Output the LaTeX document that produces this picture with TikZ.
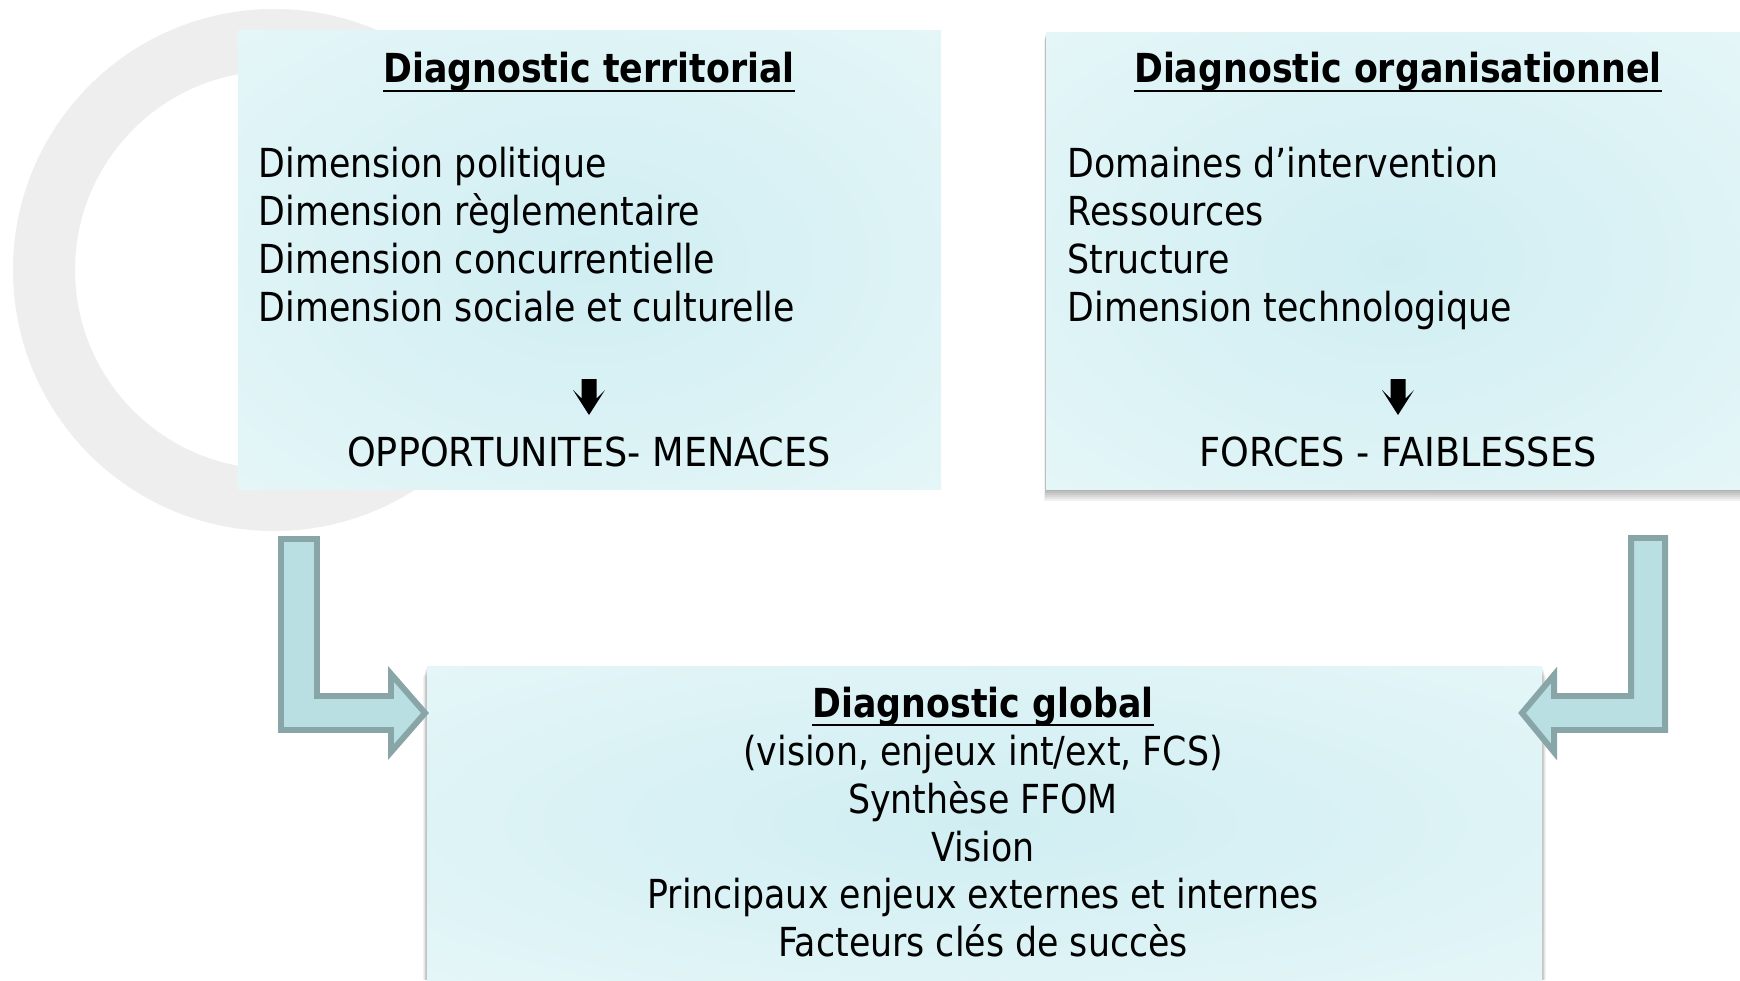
\documentclass[tikz,border=0pt]{standalone}
\usepackage{fontspec}
\setmainfont{DejaVu Sans}[FakeStretch=0.87]
\usetikzlibrary{calc}
\definecolor{ringgray}{RGB}{238,238,238}
\definecolor{boxin}{RGB}{208,238,242}
\definecolor{boxout}{RGB}{237,249,250}
\definecolor{arrfill}{RGB}{186,223,226}
\definecolor{arrline}{RGB}{136,166,168}
\pgfdeclareradialshading{boxshade}{\pgfpoint{0bp}{0bp}}{color(0bp)=(boxin); color(50bp)=(boxout)}
\newcommand\bodysize{\fontsize{22.76pt}{27.32pt}\selectfont}
\tikzset{
  txt/.style={inner sep=0pt, font=\bodysize, text=black},
  captxt/.style={inner sep=0pt, font=\bodysize\addfontfeatures{FakeStretch=0.915}, text=black},
  ttl/.style={inner sep=0pt, font=\bodysize\bfseries, text=black},
  blockarrow/.style={fill=arrfill, draw=arrline, line width=3.4pt, line join=miter},
  uline/.style={line width=1.5pt, black},
  boxfill/.style={shading=boxshade},
  darrow/.pic={\fill[black] (-7.5,-17.8) -- (7.5,-17.8) -- (7.5,1.5) -- (16,-7) -- (0,18) -- (-16,-7) -- (-7.5,1.5) -- cycle;}
}
\begin{document}
\begin{tikzpicture}[x=0.02cm,y=-0.02cm]
\useasboundingbox (0,0) rectangle (1740,980);
\fill[white] (0,0) rectangle (1740,980);
% background ring
\coordinate (ringc) at (274,270);
\fill[ringgray,even odd rule] (ringc) circle (261) (ringc) circle (199);
% box 1
\coordinate (b1a) at (238,31);
\coordinate (b1b) at (941,489);
\path[boxfill] (b1a) rectangle (b1b);
% box 2 shadow and box
\coordinate (b2a) at (1046,33);
\coordinate (b2b) at (1740,489);
\foreach \k in {1,...,6} \fill[black,opacity=0.055] (1046-0.3*\k,33+\k) rectangle (1740,489+2*\k);
\path[boxfill] (b2a) rectangle (b2b);
% box 3 shadow and box
\coordinate (b3a) at (427,666);
\coordinate (b3b) at (1542,980);
\foreach \k in {1,...,5} \fill[black,opacity=0.05] (427-0.8*\k,666+2*\k) rectangle (1542+0.8*\k,980);
\path[boxfill] (b3a) rectangle (b3b);
% box 1 texts
\node[ttl,anchor=base] (t1) at (589,83) {Diagnostic territorial};
\draw[uline] ($(t1.base west)+(0,8)$) -- ($(t1.base east)+(0,8)$);
\node[txt,anchor=base west] (a1) at (258.6,177.7) {Dimension politique};
\node[txt,anchor=base west] (a2) at (258.6,225.7) {Dimension règlementaire};
\node[txt,anchor=base west] (a3) at (258.6,273.7) {Dimension concurrentielle};
\node[txt,anchor=base west] (a4) at (258.6,321.7) {Dimension sociale et culturelle};
\pic at (589,397) {darrow};
\node[captxt,anchor=base] (r1) at (589,466) {OPPORTUNITES- MENACES};
% box 2 texts
\node[ttl,anchor=base] (t2) at (1398,83) {Diagnostic organisationnel};
\draw[uline] ($(t2.base west)+(0,8)$) -- ($(t2.base east)+(0,8)$);
\node[txt,anchor=base west] (o1) at (1067.5,177.7) {Domaines d’intervention};
\node[txt,anchor=base west] (o2) at (1067.5,225.7) {Ressources};
\node[txt,anchor=base west] (o3) at (1067.5,273.7) {Structure};
\node[txt,anchor=base west] (o4) at (1067.5,321.7) {Dimension technologique};
\pic at (1398,397) {darrow};
\node[captxt,anchor=base] (r2) at (1398,466) {FORCES - FAIBLESSES};
% box 3 texts
\node[ttl,anchor=base] (t3) at (983,717) {Diagnostic global};
\draw[uline] ($(t3.base west)+(0,8)$) -- ($(t3.base east)+(0,8)$);
\node[txt,anchor=base] (g1) at (983,765.7) {(vision, enjeux int/ext, FCS)};
\node[txt,anchor=base] (g2) at (983,813.2) {Synthèse FFOM};
\node[txt,anchor=base] (g3) at (983,861.2) {Vision};
\node[txt,anchor=base] (g4) at (983,908.8) {Principaux enjeux externes et internes};
\node[txt,anchor=base] (g5) at (983,956.2) {Facteurs clés de succès};
% bent block arrows
\draw[blockarrow] (281,539) -- (317,539) -- (317,696) -- (391,696) -- (391,674) -- (425,713) -- (391,752) -- (391,730) -- (281,730) -- cycle;
\draw[blockarrow] (1665,538) -- (1631,538) -- (1631,696) -- (1554,696) -- (1554,675) -- (1522,713) -- (1554,752) -- (1554,730) -- (1665,730) -- cycle;
\end{tikzpicture}
\end{document}
